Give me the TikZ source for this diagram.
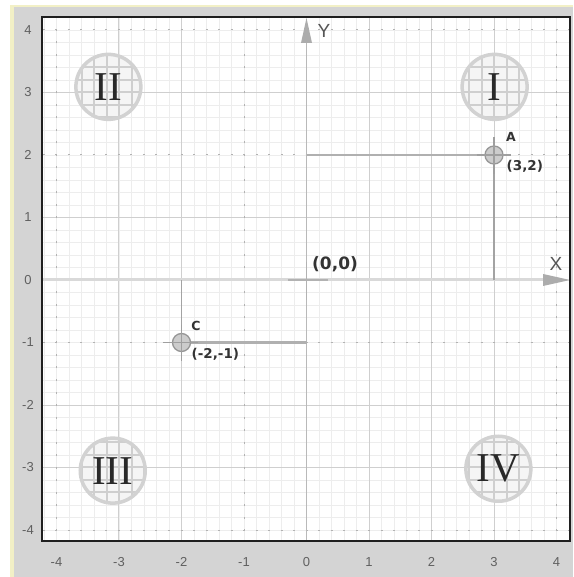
\documentclass[tikz,border=0pt]{standalone}
\usepackage{fontspec}
\newfontfamily\lsans{Liberation Sans}
\newfontfamily\dvsans{DejaVu Sans}
\newfontfamily\lserif{Liberation Serif}
\definecolor{framegray}{HTML}{D4D4D4}
\definecolor{frameyel}{HTML}{F2F0C6}
\definecolor{ticktext}{HTML}{606060}
\definecolor{darktext}{HTML}{333333}
\tikzset{
  minorgrid/.style={gray!14, line width=0.6pt},
  majorline/.style={gray!38, line width=1pt},
  dashline/.style={gray!60, line width=1pt, dash pattern=on 2pt off 10.5pt},
  discgrid/.style={gray!38, line width=2pt},
  discring/.style={gray!35, line width=3.5pt},
  numeral/.style={inner sep=0pt, text=darktext!80!black, font=\lserif\fontsize{41}{41}\selectfont},
  xaxis/.style={gray!30, line width=3pt},
  yaxis/.style={gray!55, line width=1.1pt},
  arrowfill/.style={fill=gray!65},
  crossline/.style={gray!60, line width=1.1pt},
  projh/.style={gray!62, line width=2.2pt},
  projv/.style={gray!72, line width=1.1pt},
  ptmark/.style={circle, minimum size=18pt, inner sep=0pt, fill=gray!40, draw=gray!82, line width=1.3pt},
  ptcross/.style={gray!75, line width=1.1pt},
  ticklbl/.style={inner sep=0pt, text=ticktext, font=\lsans\fontsize{13}{13}\selectfont},
  axislbl/.style={inner sep=0pt, text=ticktext!90!black, font=\lsans\fontsize{19}{19}\selectfont},
  coordlbl/.style={inner sep=0pt, anchor=west, text=darktext, font=\dvsans\bfseries\fontsize{13.5}{13.5}\selectfont},
  originlbl/.style={inner sep=0pt, anchor=west, text=darktext, font=\dvsans\bfseries\fontsize{17}{17}\selectfont},
  ptlbl/.style={inner sep=0pt, text=darktext, font=\dvsans\bfseries\fontsize{12.5}{12.5}\selectfont},
  plotborder/.style={black!88, line width=2pt}
}
\begin{document}
\begin{tikzpicture}[x=62.5pt,y=62.5pt]
\useasboundingbox (-4.904,-4.752) rectangle (4.264,4.48);
\fill[white] (-4.904,-4.752) rectangle (4.264,4.48);
\fill[frameyel] (-4.744,-4.752) rectangle (4.264,4.4);
\fill[framegray] (-4.68,-4.752) rectangle (4.264,4.368);
\coordinate (PA1) at (-4.232,-4.176);
\coordinate (PA2) at (4.216,4.208);
\fill[white] (PA1) rectangle (PA2);
\begin{scope}
  \clip (PA1) rectangle (PA2);
  \draw[minorgrid] (-4.4,-4.4) grid[step=0.2] (4.4,4.4);
  \foreach \x in {-3,-2,1,2,3} \draw[majorline] (\x,-4.4) -- (\x,4.4);
  \foreach \y in {3,1,-2,-3} \draw[majorline] (-4.4,\y) -- (4.4,\y);
  \foreach \x in {-4,-1,4} \draw[dashline] ([yshift=-1pt]\x,-4.4) -- (\x,4.4);
  \foreach \y in {4,2,-1,-4} \draw[dashline] ([xshift=-1pt]-4.4,\y) -- (4.4,\y);
  % quadrant discs
  \foreach \cx/\cy/\lab in {3.01/3.09/I, -3.17/3.09/II, -3.1/-3.05/III, 3.07/-3.02/IV}{
    \begin{scope}
      \clip (\cx,\cy) circle (0.54);
      \fill[gray!8] (\cx,\cy) circle (0.54);
      \draw[discgrid] (\cx-0.6,\cy-0.6) grid[step=0.2] (\cx+0.6,\cy+0.6);
    \end{scope}
    \draw[discring] (\cx,\cy) circle (0.52);
    \node[numeral] (q\lab) at (\cx,\cy) {\lab};
  }
  % axes
  \coordinate (O) at (0,0);
  \coordinate (xL) at (-4.232,0);
  \coordinate (xR) at (3.79,0);
  \coordinate (yB) at (0,-4.176);
  \coordinate (yT) at (0,3.8);
  \draw[xaxis] (xL) -- (xR);
  \draw[yaxis] (yB) -- (yT);
\end{scope}
\fill[arrowfill] (4.216,0) -- (3.784,0.096) -- (3.784,-0.096) -- cycle;
\fill[arrowfill] (0,4.192) -- (-0.088,3.792) -- (0.088,3.792) -- cycle;
\node[axislbl] (lX) at (3.992,0.256) {X};
\node[axislbl] (lY) at (0.28,3.984) {Y};
% origin cross
\draw[crossline] (O) +(-0.3,0) -- +(0.34,0);
\draw[crossline] (O) +(0,0.29) -- +(0,-0.32);
\node[originlbl] (lO) at (0.088,0.256) {(0,0)};
% point A
\coordinate (A) at (3,2);
\coordinate (Ay) at (0,2);
\coordinate (Ax) at (3,0);
\draw[projh] (Ay) -- (A);
\draw[projv] (A) -- (Ax);
\node[ptmark] (pA) at (A) {};
\draw[ptcross] (A) +(-0.28,0) -- +(0.27,0);
\draw[ptcross] (A) +(0,0.29) -- +(0,-0.3);
\node[ptlbl] (lA) at (3.272,2.288) {A};
\node[coordlbl] (lA2) at (3.2,1.824) {(3,2)};
% point C
\coordinate (C) at (-2,-1);
\coordinate (Cy) at (0,-1);
\coordinate (Cx) at (-2,0);
\draw[projh] (C) -- (Cy);
\draw[projv] (C) -- (Cx);
\node[ptmark] (pC) at (C) {};
\draw[ptcross] (C) +(-0.3,0) -- +(0.27,0);
\draw[ptcross] (C) +(0,0.28) -- +(0,-0.29);
\node[ptlbl] (lC) at (-1.768,-0.736) {C};
\node[coordlbl] (lC2) at (-1.84,-1.184) {(-2,-1)};
% border
\draw[plotborder] (PA1) rectangle (PA2);
% tick labels
\foreach \v in {-4,-3,-2,-1,0,1,2,3,4}{
  \node[ticklbl] (tx\v) at (\v,-4.512) {\v};
  \node[ticklbl] (ty\v) at (-4.456,\v) {\v};
}
\end{tikzpicture}
\end{document}
